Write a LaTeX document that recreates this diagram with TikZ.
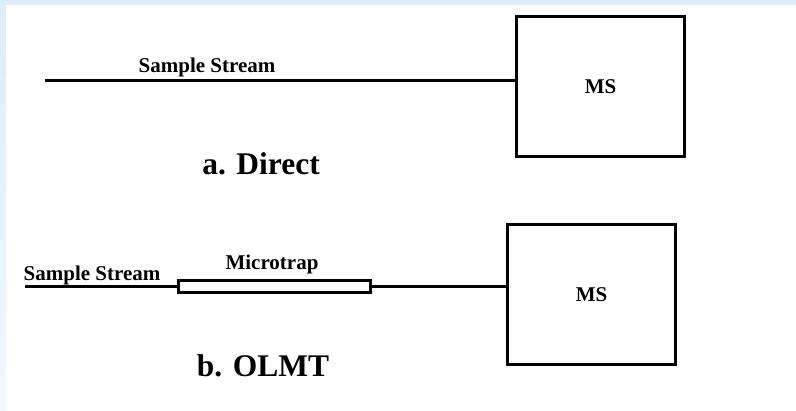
\documentclass[tikz,border=0pt]{standalone}
\usepackage{fontspec}
\setmainfont{Liberation Serif}
\usetikzlibrary{calc}
\definecolor{frameblue}{RGB}{220,238,252}
\definecolor{framepale}{RGB}{240,248,255}
\tikzset{
	msbox/.style={draw, line width=3.5pt, minimum width=168pt, minimum height=140pt, inner sep=0pt, font=\bfseries\fontsize{21}{21}\selectfont},
	pipe/.style={line width=3pt},
	label/.style={anchor=base, inner sep=0pt, font=\bfseries\fontsize{21}{21}\selectfont},
	caption/.style={anchor=base, inner sep=0pt, font=\bfseries\fontsize{31.5}{31.5}\selectfont}
}

\begin{document}
\begin{tikzpicture}[x=1pt, y=-1pt]
			%%%%% START %%%%%
			\useasboundingbox (0, 0) rectangle (796, 411);
			\fill[white] (0, 0) rectangle (796, 411);
			\fill[frameblue] (0, 0) rectangle (796, 5);
			\shade[top color=frameblue, bottom color=framepale] (0, 5) rectangle (6, 411);
			
			% a. Direct
			\node[msbox] (msa) at (600.5, 86.5) {MS};
			\coordinate (sa) at (45, 81);
			\draw[pipe] (sa) -- (sa -| msa.west);
			\node[label] (sla) at (207, 73) {Sample Stream};
			\node[caption] (capa) at (261, 175) {a. Direct};
			
			% b. OLMT
			\node[msbox] (msb) at (591.5, 294.5) {MS};
			\node[draw, line width=3pt, minimum width=192pt, minimum height=12pt, inner sep=0pt] (trap) at (274.5, 287) {};
			\coordinate (sb) at (25, 287);
			\draw[pipe] (sb) -- (trap.west);
			\draw[pipe] (trap.east) -- (trap.east -| msb.west);
			\node[label] (slb) at (92, 281) {Sample Stream};
			\node[label] (mt) at (272, 270) {Microtrap};
			\node[caption] (capb) at (263, 377) {b. OLMT};
			
			%%%%% END %%%%%
		\end{tikzpicture}
\end{document}
